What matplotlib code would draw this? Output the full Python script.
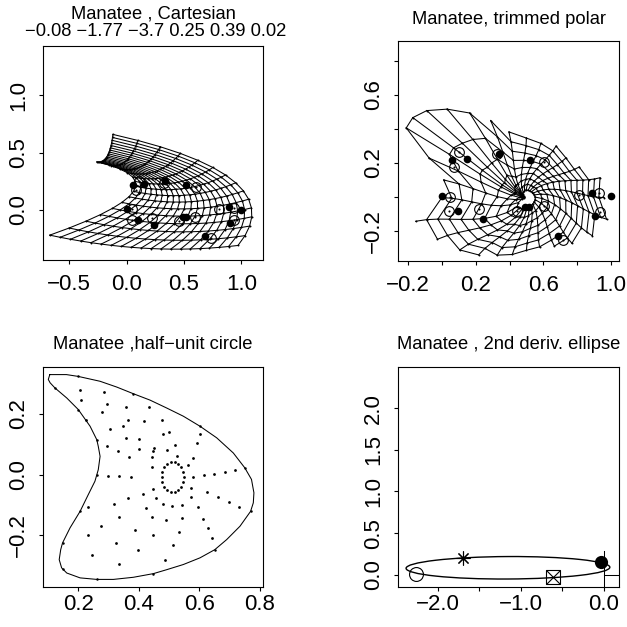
import numpy as np
import matplotlib
matplotlib.use("Agg")
import matplotlib.pyplot as plt
from matplotlib.patches import Ellipse

plt.rcParams['font.family'] = ['Liberation Sans', 'DejaVu Sans']

# ---------------- data ----------------
coef_values = [-0.08, -1.77, -3.7, 0.25, 0.39, 0.02]

# target landmarks (filled dots, panels 1 and 2)
lm_x = [0.058, 0.147, 0.336, 0.519, 0.001, 0.095, 0.241, 0.490, 0.514, 0.890, 1.000, 0.903, 0.686]
lm_y = [0.214, 0.223, 0.254, 0.217, 0.005, -0.085, -0.129, -0.063, -0.058, 0.022, 0.002, -0.114, -0.229]

# fitted landmarks (open circles with dot)
fit1_x = [0.105, 0.085, 0.323, 0.608, 0.050, 0.046, 0.221, 0.456, 0.599, 0.802, 0.933, 0.936, 0.732]
fit1_y = [0.256, 0.175, 0.233, 0.204, 0.009, -0.087, -0.073, -0.093, -0.058, 0.011, 0.020, -0.087, -0.247]
fit2_x = [0.104, 0.074, 0.325, 0.605, 0.049, 0.044, 0.220, 0.447, 0.601, 0.810, 0.926, 0.936, 0.719]
fit2_y = [0.265, 0.176, 0.249, 0.206, 0.000, -0.084, -0.070, -0.084, -0.055, 0.010, 0.024, -0.088, -0.255]

# quadratic (Cartesian) grid map coefficients: 1, s, t, s^2, s*t, t^2
cart_cx = [-0.67, 1.72, 2.51, -0.08, -1.50, -2.10]
cart_cy = [-0.22, -0.37, 0.89, 0.28, 0.33, -0.25]
n_s_lines = 20
n_t_lines = 15

# trimmed polar grid: per ray outer angle, outer radius, rings kept, node spacing power
polar_center = (0.50, -0.005)
ray_angles_deg = [0, 15, 30, 45, 60, 75, 90, 105, 115, 124, 132, 139, 145, 150, 158, 168,
                  180, 192, 205, 218, 230, 243, 256, 270, 285, 300, 315, 330, 345]
ray_extent = [0.46, 0.45, 0.36, 0.33, 0.35, 0.33, 0.35, 0.40, 0.50, 0.60, 0.70, 0.78, 0.82, 0.82, 0.62, 0.50,
              0.50, 0.67, 0.58, 0.50, 0.44, 0.38, 0.345, 0.31, 0.30, 0.33, 0.38, 0.45, 0.49]
ray_rings = [14, 13, 11, 10, 10, 9, 9, 9, 8, 7, 7, 7, 7, 7, 7, 8,
             9, 10, 9, 8, 8, 7, 7, 7, 7, 8, 9, 11, 13]
ray_power = [1.0, 1.0, 1.0, 1.0, 1.0, 1.1, 1.2, 1.4, 1.8, 2.3, 2.7, 3.0, 3.0, 3.0, 2.4, 1.6,
             1.1, 1.0, 1.0, 1.0, 1.0, 1.0, 1.0, 1.0, 1.0, 1.0, 1.0, 1.0, 1.0]
ring_twist_deg = 40.0
inner_radius = 0.012

# half-unit circle outline
outline_x = [0.106, 0.161, 0.200, 0.272, 0.327, 0.382, 0.437, 0.492, 0.547, 0.602, 0.657,
             0.712, 0.750, 0.772, 0.780, 0.778, 0.769, 0.734, 0.690, 0.651, 0.602, 0.547,
             0.492, 0.448, 0.382, 0.316, 0.261, 0.206, 0.162, 0.145, 0.137, 0.142, 0.148,
             0.173, 0.206, 0.233, 0.255, 0.266, 0.272, 0.266, 0.261, 0.239, 0.200, 0.162,
             0.123, 0.107, 0.101, 0.106]
outline_y = [0.329, 0.329, 0.323, 0.307, 0.288, 0.266, 0.245, 0.219, 0.192, 0.159, 0.121,
             0.071, 0.022, -0.016, -0.060, -0.093, -0.121, -0.170, -0.214, -0.247, -0.274,
             -0.296, -0.313, -0.326, -0.338, -0.345, -0.345, -0.340, -0.324, -0.307, -0.280,
             -0.247, -0.225, -0.175, -0.121, -0.066, -0.022, 0.016, 0.060, 0.093, 0.115,
             0.159, 0.214, 0.252, 0.285, 0.302, 0.313, 0.329]
outline_node_x = [0.200, 0.382, 0.602, 0.750, 0.769, 0.651, 0.448, 0.261, 0.150, 0.148,
                  0.206, 0.262, 0.261, 0.200, 0.123]
outline_node_y = [0.323, 0.266, 0.159, 0.022, -0.121, -0.247, -0.326, -0.345, -0.310,
                  -0.225, -0.121, 0.000, 0.115, 0.214, 0.285]
inner_x = [0.2055, 0.2088, 0.2858, 0.2935, 0.2792, 0.3573, 0.4332, 0.3639, 0.4167, 0.4750,
           0.2253, 0.3045, 0.3485, 0.5003, 0.4805, 0.3562, 0.4013, 0.6015, 0.2957, 0.4013,
           0.4508, 0.4915, 0.5179, 0.5916, 0.3320, 0.4453, 0.3672, 0.4420, 0.5267, 0.5773,
           0.4420, 0.5608, 0.2990, 0.3353, 0.3727, 0.5773, 0.6158, 0.6488, 0.6840, 0.7171,
           0.4134, 0.4475, 0.5718, 0.2330, 0.3188, 0.3650, 0.4222, 0.4574, 0.4805, 0.5080,
           0.5410, 0.5707, 0.5938, 0.6235, 0.6609, 0.6961, 0.7314, 0.2737, 0.3353, 0.3870,
           0.4420, 0.4882, 0.5432, 0.6125, 0.6290, 0.6400, 0.2308, 0.3243, 0.3980, 0.4475,
           0.5322, 0.5135, 0.2440, 0.3353, 0.4860,
           0.5476, 0.5454, 0.5388, 0.5289, 0.5179, 0.5047, 0.4926, 0.4838, 0.4772, 0.4750,
           0.4772, 0.4838, 0.4926, 0.5047, 0.5179, 0.5289, 0.5388, 0.5454]
inner_y = [0.2774, 0.2467, 0.2708, 0.2325, 0.2050, 0.2237, 0.2215, 0.1787, 0.1754, 0.1809,
           0.1809, 0.1513, 0.1612, 0.1404, 0.1327, 0.1195, 0.1184, 0.1349, 0.0954, 0.0855,
           0.0888, 0.0822, 0.0987, 0.1042, 0.0779, 0.0768, 0.0581, 0.0581, 0.0625, 0.0548,
           0.0241, 0.0329, -0.0033, -0.0055, -0.0077, -0.0077, -0.0022, 0.0033, 0.0077, 0.0143,
           -0.0625, -0.0471, -0.0439, -0.1075, -0.0954, -0.0779, -0.1086, -0.0779, -0.0976, -0.1020,
           -0.0987, -0.0746, -0.1075, -0.0581, -0.0735, -0.0910, -0.1064, -0.1700, -0.1404, -0.1831,
           -0.1404, -0.1480, -0.1425, -0.1447, -0.1765, -0.2094, -0.1985, -0.2248, -0.2489, -0.1996,
           -0.1875, -0.2325, -0.2654, -0.2950, -0.2796,
           -0.0077, 0.0088, 0.0241, 0.0351, 0.0406, 0.0406, 0.0351, 0.0241, 0.0088, -0.0077,
           -0.0241, -0.0395, -0.0504, -0.0559, -0.0559, -0.0504, -0.0395, -0.0241]

# 2nd derivative ellipse
ell_center = (-1.155, 0.083)
ell_width = 2.45
ell_height = 0.27
ell_angle = 0.3
pt_circle = (-2.26, 0.01)
pt_star = (-1.70, 0.197)
pt_boxx = (-0.61, -0.03)
pt_filled = (-0.04, 0.156)
axis_top = 0.28

# ---------------- figure ----------------
W = 627
fig = plt.figure(figsize=(6.27, 6.27), dpi=100)

def ax_at(l, r, t, b):
    return fig.add_axes([l / W, (W - b) / W, (r - l) / W, (b - t) / W])

TICK_FS = 16
TITLE_FS = 13.2

def style(ax, xlim, ylim, xt, xl, yt, yl, xpad):
    ax.set_xlim(*xlim)
    ax.set_ylim(*ylim)
    ax.set_xticks(xt)
    ax.set_xticklabels(xl)
    ax.set_yticks(yt)
    ax.set_yticklabels(yl, rotation=90, va='center')
    ax.tick_params(axis='x', length=3, width=0.8, labelsize=TICK_FS, pad=xpad)
    ax.tick_params(axis='y', length=3, width=0.8, labelsize=TICK_FS, pad=7)
    for sp in ax.spines.values():
        sp.set_linewidth(0.8)

def mlab(v):
    s = f"{v:.1f}"
    return s.replace('-', '\u2212')

LW = 0.75

# ---- Panel 1: Cartesian ----
ax1 = ax_at(43, 263, 46, 260)
s = np.linspace(0, 1, n_s_lines)
t = np.linspace(0, 1, n_t_lines)
S, T = np.meshgrid(s, t)

def qmap(c, S, T):
    return c[0] + c[1] * S + c[2] * T + c[3] * S ** 2 + c[4] * S * T + c[5] * T ** 2

GX = qmap(cart_cx, S, T)
GY = qmap(cart_cy, S, T)
for i in range(n_t_lines):
    ax1.plot(GX[i, :], GY[i, :], color='black', lw=LW)
for j in range(n_s_lines):
    ax1.plot(GX[:, j], GY[:, j], color='black', lw=LW)
ax1.plot(GX.ravel(), GY.ravel(), 'o', color='black', ms=1.4, mew=0)
ax1.plot(lm_x, lm_y, 'o', color='black', ms=5.5, mew=0)
ax1.plot(fit1_x, fit1_y, 'o', mfc='none', mec='black', ms=7, mew=0.8)
ax1.plot(fit1_x, fit1_y, 'o', color='black', ms=1.5, mew=0)
style(ax1, (-0.729, 1.188), (-0.437, 1.432),
      [-0.5, 0.0, 0.5, 1.0], [mlab(v) for v in [-0.5, 0.0, 0.5, 1.0]],
      [0.0, 0.5, 1.0], [mlab(v) for v in [0.0, 0.5, 1.0]], 7)
fig.text(153 / W, 1 - 14 / W, "Manatee , Cartesian", ha='center', va='center', fontsize=TITLE_FS)
fig.text(156 / W, 1 - 31 / W, " ".join(str(v).replace('-', '\u2212') for v in coef_values),
         ha='center', va='center', fontsize=TITLE_FS)

# ---- Panel 2: trimmed polar ----
ax2 = ax_at(398, 619, 41, 261)
nr = len(ray_angles_deg)
nodes = {}
for i in range(nr):
    th = np.deg2rad(ray_angles_deg[i])
    n = ray_rings[i]
    for j in range(1, n + 1):
        f = (j / n) ** ray_power[i]
        rr = inner_radius + (ray_extent[i] - inner_radius) * f
        tt = th + np.deg2rad(ring_twist_deg) * (1 - j / n) ** 2
        nodes[(i, j)] = (polar_center[0] + rr * np.cos(tt), polar_center[1] + rr * np.sin(tt))
for i in range(nr):
    pts = [nodes[(i, j)] for j in range(1, ray_rings[i] + 1)]
    ax2.plot([p[0] for p in pts], [p[1] for p in pts], color='black', lw=LW)
for i in range(nr):
    k = (i + 1) % nr
    for j in range(1, min(ray_rings[i], ray_rings[k]) + 1):
        a, b = nodes[(i, j)], nodes[(k, j)]
        ax2.plot([a[0], b[0]], [a[1], b[1]], color='black', lw=LW)
ax2.plot([p[0] for p in nodes.values()], [p[1] for p in nodes.values()], 'o',
         color='black', ms=1.4, mew=0)
ax2.plot(lm_x, lm_y, 'o', color='black', ms=5.5, mew=0)
ax2.plot(fit2_x, fit2_y, 'o', mfc='none', mec='black', ms=7, mew=0.8)
ax2.plot(fit2_x, fit2_y, 'o', color='black', ms=1.5, mew=0)
xt2 = [-0.2, 0.0, 0.2, 0.4, 0.6, 0.8, 1.0]
yt2 = [-0.2, 0.0, 0.2, 0.4, 0.6, 0.8]
style(ax2, (-0.259, 1.047), (-0.378, 0.916),
      xt2, [mlab(v) if v in (-0.2, 0.2, 0.6, 1.0) else '' for v in xt2],
      yt2, [mlab(v) if v in (-0.2, 0.2, 0.6) else '' for v in yt2], 7)
fig.text(508.5 / W, 1 - 19.5 / W, "Manatee, trimmed polar", ha='center', va='center', fontsize=TITLE_FS)

# ---- Panel 3: half-unit circle ----
ax3 = ax_at(43, 263, 367, 587)
ax3.plot(outline_x, outline_y, color='black', lw=LW)
ax3.plot(outline_node_x, outline_node_y, 'o', color='black', ms=1.8, mew=0)
ax3.plot(inner_x, inner_y, 'o', color='black', ms=2.0, mew=0)
style(ax3, (0.0835, 0.81), (-0.37, 0.354),
      [0.2, 0.4, 0.6, 0.8], [mlab(v) for v in [0.2, 0.4, 0.6, 0.8]],
      [-0.2, 0.0, 0.2], [mlab(v) for v in [-0.2, 0.0, 0.2]], 2)
fig.text(153 / W, 1 - 344 / W, "Manatee ,half\u2212unit circle", ha='center', va='center', fontsize=TITLE_FS)

# ---- Panel 4: 2nd deriv ellipse ----
ax4 = ax_at(398, 619, 367, 587)
ax4.add_patch(Ellipse(ell_center, ell_width, ell_height, angle=ell_angle,
                      fill=False, ec='black', lw=1.0))
ax4.plot([0, 0], [-1, axis_top], color='black', lw=LW)
ax4.plot([0, 1], [0, 0], color='black', lw=LW)
ax4.plot(*pt_circle, 'o', mfc='none', mec='black', ms=10, mew=0.8)
ax4.plot(*pt_star, marker=(8, 2, 0), color='black', ms=10, mew=0.8)
ax4.plot(*pt_boxx, 's', mfc='none', mec='black', ms=9.5, mew=0.8)
ax4.plot(*pt_boxx, 'x', color='black', ms=9.5, mew=0.8)
ax4.plot(*pt_filled, 'o', color='black', ms=9.5, mew=0)
xt4 = [-2.0, -1.5, -1.0, -0.5, 0.0]
yt4 = [0.0, 0.5, 1.0, 1.5, 2.0]
style(ax4, (-2.477, 0.18), (-0.148, 2.496),
      xt4, [mlab(v) if v in (-2.0, -1.0, 0.0) else '' for v in xt4],
      yt4, [mlab(v) for v in yt4], 2)
fig.text(508.5 / W, 1 - 344 / W, "Manatee , 2nd deriv. ellipse", ha='center', va='center', fontsize=TITLE_FS)

fig.savefig("out.png", dpi=100)
